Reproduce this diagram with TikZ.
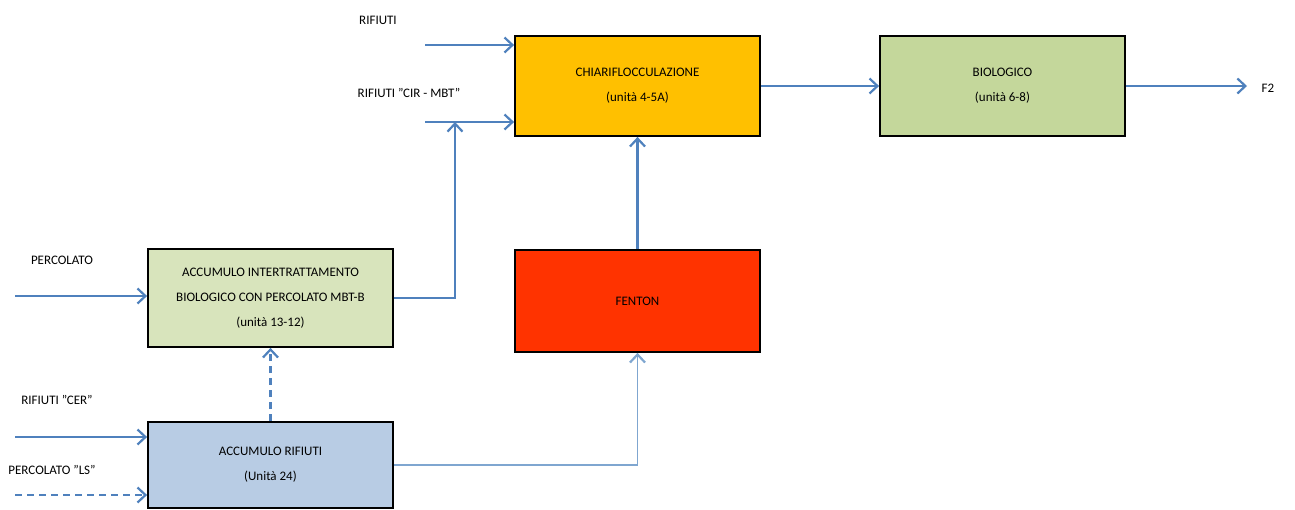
\documentclass[tikz,border=0pt]{standalone}
\usepackage{fontspec}
\setmainfont{Carlito}
\usetikzlibrary{arrows.meta}
\definecolor{flow}{HTML}{4F81BD}
\definecolor{flowlight}{HTML}{7FA6D0}
\definecolor{orangebox}{HTML}{FFC000}
\definecolor{greenbox}{HTML}{C4D79B}
\definecolor{palegreen}{HTML}{D8E4BC}
\definecolor{redbox}{HTML}{FF3300}
\definecolor{bluebox}{HTML}{B8CCE4}
\begin{document}
\begin{tikzpicture}[x=1pt,y=-1pt,
  unitbox/.style={draw=black,line width=1.8pt,minimum width=245pt,minimum height=100pt,inner sep=0pt,align=center,font=\fontsize{13}{25}\selectfont},
  lbl/.style={font=\fontsize{13}{15}\selectfont,inner sep=0pt},
  flowarrow/.style={draw=flow,line width=2.4pt,-{Straight Barb[length=8pt,width=15pt,line width=2.2pt]}},
  dashflow/.style={flowarrow,dash pattern=on 7pt off 5pt}
]
\useasboundingbox (0,0) rectangle (1295,509);
% boxes
\node[unitbox,fill=orangebox] (chi) at (637.5,86) {CHIARIFLOCCULAZIONE\\(unità 4-5A)};
\node[unitbox,fill=greenbox] (bio) at (1002.5,86) {BIOLOGICO\\(unità 6-8)};
\node[unitbox,fill=palegreen,minimum height=98pt] (acc) at (270.5,298) {ACCUMULO INTERTRATTAMENTO\\BIOLOGICO CON PERCOLATO MBT-B\\(unità 13-12)};
\node[unitbox,fill=redbox,minimum height=102pt] (fen) at (637.5,301) {FENTON};
\node[unitbox,fill=bluebox,minimum height=86pt] (rif) at (270.5,465) {ACCUMULO RIFIUTI\\(Unità 24)};
% labels
\node[lbl] (l1) at (378,20) {RIFIUTI};
\node[lbl] (l2) at (409,93) {RIFIUTI "CIR - MBT"};
\node[lbl] (l3) at (62,260) {PERCOLATO};
\node[lbl] (l4) at (57,400) {RIFIUTI "CER"};
\node[lbl] (l5) at (52,470) {PERCOLATO "LS"};
\node[lbl] (f2) at (1268,88) {F2};
% coordinates
\coordinate (s1) at (425,45);
\coordinate (s2) at (425,122);
\coordinate (s3) at (15,296);
\coordinate (s4) at (15,437);
\coordinate (s5) at (15,495);
\coordinate (out) at (1247,86);
\coordinate (j) at (455,122);
\coordinate (t1) at (chi.west |- s1);
\coordinate (t2) at (chi.west |- s2);
% connectors
\draw[flowarrow] (s1) -- (t1);
\draw[flowarrow] (s2) -- (t2);
\draw[flowarrow] (acc.east) -- (j |- acc.east) -- (j);
\draw[flowarrow] (fen.north) -- (chi.south);
\draw[flowarrow] (chi.east) -- (bio.west);
\draw[flowarrow] (bio.east) -- (out);
\draw[flowarrow] (s3) -- (acc.west |- s3);
\draw[flowarrow] (s4) -- (rif.west |- s4);
\draw[dashflow] (s5) -- (rif.west |- s5);
\draw[dashflow] (rif.north) -- (acc.south);
\draw[flowarrow,draw=flowlight,line width=1.4pt] (rif.east) -- (fen.south |- rif.east) -- (fen.south);
\end{tikzpicture}
\end{document}
